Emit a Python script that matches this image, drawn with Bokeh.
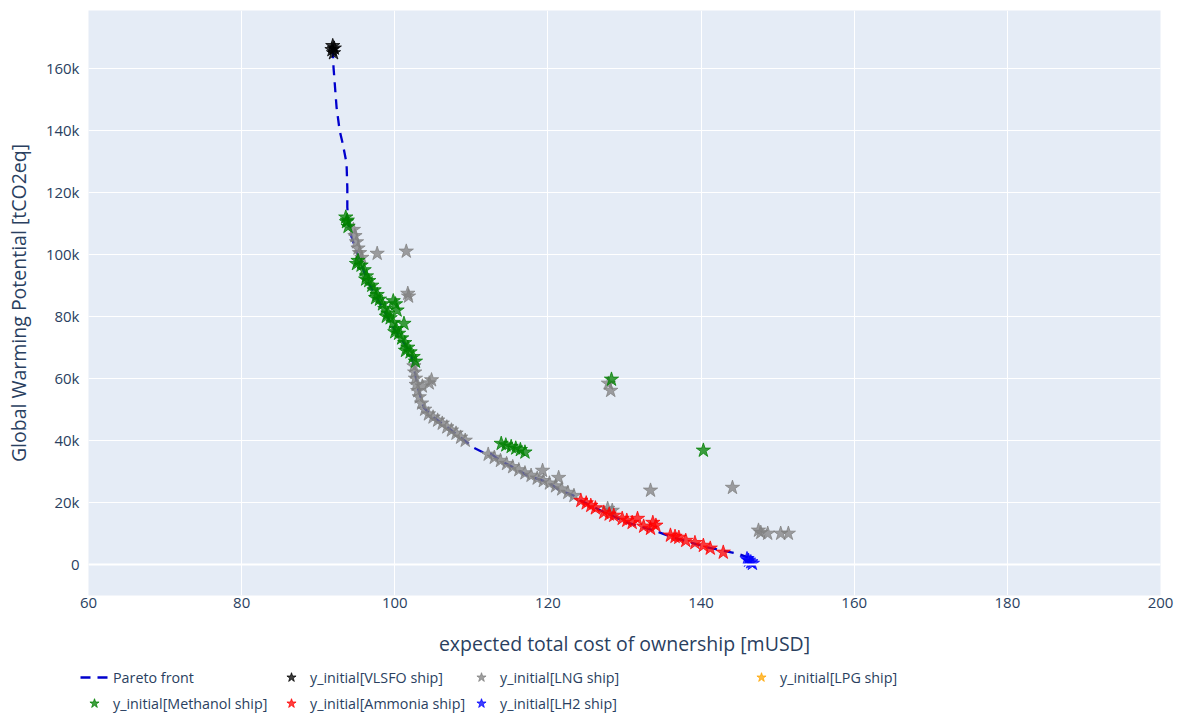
from bokeh.plotting import figure
from bokeh.layouts import column
from bokeh.models import (Range1d, FixedTicker, NumeralTickFormatter, Legend, LegendItem,
                          ColumnDataSource, Span)
from bokeh.embed import file_html
from bokeh.resources import INLINE

# ---------------- data ----------------
pareto_x = [91.9, 92.0, 92.4, 92.8, 93.2, 93.7, 93.8, 93.8, 94.0, 94.5, 95.1, 96.4, 98.1, 99.8,
            102.1, 102.4, 103.0, 103.8, 105.1, 106.9, 108.6, 110.3, 111.6, 112.5, 113.8, 115.5,
            117.3, 120.0, 121.6, 123.3, 124.3, 126.9, 130.4, 133.8, 136.4, 140.8, 144.8, 146.1]
pareto_y = [166500, 160300, 147400, 140000, 135800, 129400, 121600, 115200, 108700, 104500,
            100300, 91600, 84200, 76500, 68100, 64800, 57100, 50600, 47400, 44200, 41000, 37700,
            36100, 35800, 33500, 31300, 28700, 26500, 23900, 22300, 20600, 17400, 13500, 11000,
            8700, 5500, 3500, 2300]

vlsfo_x = [91.8, 91.9, 92.0, 92.1]
vlsfo_y = [166000, 167300, 165000, 166500]

lng_x = [94.6, 94.8, 95.0, 95.2, 95.4, 95.7, 97.7, 101.5, 101.8, 101.7,
         102.5, 102.6, 102.7, 102.8, 103.0, 103.2, 103.5, 103.9, 104.4, 105.0, 105.6, 106.2,
         106.8, 107.4, 108.0, 108.6, 109.2, 104.5, 104.8, 103.6,
         112.2, 113.0, 113.8, 114.6, 115.4, 116.2, 117.0, 117.8, 118.6, 119.4, 120.2, 121.0,
         121.8, 122.6, 123.4, 119.3, 121.4,
         127.8, 128.4, 127.9, 128.2, 133.4, 144.1, 147.5, 147.8, 148.7, 150.4, 151.4]
lng_y = [108000, 106000, 104000, 102000, 100500, 99000, 100300, 101000, 86500, 87400,
         64000, 62000, 60000, 58000, 56000, 54000, 52000, 50000, 48500, 47500, 46500, 45500,
         44300, 43300, 42300, 41000, 40000, 58500, 59500, 57500,
         35500, 34500, 33500, 32500, 31500, 30500, 29500, 28700, 27800, 27000, 26200, 25300,
         24300, 23200, 22200, 30300, 28000,
         18000, 17400, 58400, 56100, 23900, 24800, 11000, 10300, 10000, 10000, 10000]

# no LPG design is visible in the chart (legend entry only)
lpg_x = [float("nan")]
lpg_y = [float("nan")]

methanol_x = [93.6, 93.7, 93.9, 93.8, 95.2, 95.6, 96.0, 96.3, 96.6, 97.0, 97.3, 97.7, 98.0, 98.4,
              98.7, 99.1, 99.4, 99.8, 100.2, 100.5, 100.9, 101.3, 101.7, 102.0, 102.4, 102.7,
              95.0, 96.2, 97.5, 98.9, 100.0, 101.4, 99.8, 100.1, 100.3, 101.2,
              113.9, 114.5, 115.2, 115.8, 116.4, 117.0, 128.3, 140.3]
methanol_y = [112000, 110500, 109000, 111000, 98000, 96500, 95000, 93000, 91500, 90000, 88500,
              87000, 85500, 84000, 82500, 81000, 79500, 78000, 76000, 74500, 73000, 71500, 70000,
              68500, 67000, 65500, 97000, 92000, 86000, 80000, 75000, 69000, 85000, 84000, 82000,
              77700, 39000, 38500, 38000, 37500, 37000, 36200, 59700, 36800]

ammonia_x = [124.3, 125.0, 125.6, 126.2, 127.3, 128.0, 128.6, 129.7, 130.3, 131.0, 131.7, 133.7,
             134.1, 133.4, 132.5, 136.0, 137.1, 138.0, 140.3, 141.2, 142.9, 136.6, 139.2]
ammonia_y = [20600, 19800, 19000, 18200, 16800, 16200, 15800, 14800, 14200, 13500, 14800, 13500,
             12600, 11600, 12300, 9400, 8700, 7700, 6100, 5200, 3900, 9000, 7000]

lh2_x = [146.2, 146.7, 146.0, 146.5]
lh2_y = [1300, 300, 1800, 800]

x_ticks = [60, 80, 100, 120, 140, 160, 180, 200]
y_ticks = [0, 20000, 40000, 60000, 80000, 100000, 120000, 140000, 160000]

series_labels = ["Pareto front", "y_initial[VLSFO ship]", "y_initial[LNG ship]",
                 "y_initial[LPG ship]", "y_initial[Methanol ship]", "y_initial[Ammonia ship]",
                 "y_initial[LH2 ship]"]

# ---------------- styles ----------------
FONT = "Open Sans"
TXT = "#2a3f5f"
LINE_STYLE = dict(line_color="#0000CD", line_width=2.3, line_dash="10 7")
SERIES = {
    "vlsfo": (vlsfo_x, vlsfo_y, "black"),
    "lng": (lng_x, lng_y, "#808080"),
    "lpg": (lpg_x, lpg_y, "orange"),
    "meth": (methanol_x, methanol_y, "green"),
    "amm": (ammonia_x, ammonia_y, "red"),
    "lh2": (lh2_x, lh2_y, "blue"),
}

# ---------------- main figure ----------------
p = figure(frame_width=1072, frame_height=585, output_backend="svg", toolbar_location=None,
           x_range=Range1d(60, 200), y_range=Range1d(-10000, 178700),
           min_border_left=88, min_border_right=26, min_border_top=10, min_border_bottom=68,
           background_fill_color="#E5ECF6", border_fill_color="white")
p.outline_line_color = None

for ax in (p.xaxis[0], p.yaxis[0]):
    ax.axis_line_color = None
    ax.major_tick_line_color = None
    ax.minor_tick_line_color = None
    ax.major_tick_out = 0
    ax.major_tick_in = 0
    ax.major_label_text_font = FONT
    ax.major_label_text_font_size = "15px"
    ax.major_label_text_color = TXT
    ax.axis_label_text_font = FONT
    ax.axis_label_text_font_size = "19.5px"
    ax.axis_label_text_color = TXT
    ax.axis_label_text_font_style = "normal"

p.xaxis.ticker = FixedTicker(ticks=x_ticks)
p.yaxis.ticker = FixedTicker(ticks=y_ticks)
p.yaxis.formatter = NumeralTickFormatter(format="0a")
p.xaxis.axis_label = "expected total cost of ownership [mUSD]"
p.yaxis.axis_label = "Global Warming Potential [tCO2eq]"
p.xaxis.major_label_standoff = 2
p.xaxis.axis_label_standoff = 19
p.yaxis.major_label_standoff = 9
p.yaxis.axis_label_standoff = 11

p.grid.grid_line_color = "white"
p.grid.grid_line_width = 1
p.add_layout(Span(location=0, dimension="width", line_color="white", line_width=2))

def stars(fig, xs, ys, color):
    src = ColumnDataSource(dict(x=xs, y=ys))
    return fig.scatter("x", "y", source=src, marker="star", size=15,
                       fill_color=color, line_color=color, fill_alpha=0.75, line_alpha=0.75)

p.line(pareto_x, pareto_y, **LINE_STYLE)
for key, (xs, ys, c) in SERIES.items():
    stars(p, xs, ys, c)

# ---------------- legend strip (legend-only figure, data lies outside its view) ----------------
lf = figure(width=1186, height=52, output_backend="svg", toolbar_location=None,
            x_range=Range1d(0, 1), y_range=Range1d(0, 1),
            x_axis_type=None, y_axis_type=None,
            min_border_left=0, min_border_right=0, min_border_top=0, min_border_bottom=0,
            background_fill_color="white", border_fill_color="white")
lf.outline_line_color = None
if "frame_align" in lf.properties():
    lf.frame_align = False
    p.frame_align = False

proxy_line = lf.line(pareto_x, pareto_y, **LINE_STYLE)
proxy = {k: stars(lf, xs, ys, c) for k, (xs, ys, c) in SERIES.items()}

columns_spec = [
    ([(series_labels[0], proxy_line), (series_labels[4], proxy["meth"])], (80, 0)),
    ([(series_labels[1], proxy["vlsfo"]), (series_labels[5], proxy["amm"])], (277, 0)),
    ([(series_labels[2], proxy["lng"]), (series_labels[6], proxy["lh2"])], (467, 0)),
    ([(series_labels[3], proxy["lpg"])], (747, 26)),
]
for items, loc in columns_spec:
    lg = Legend(items=[LegendItem(label=t, renderers=[r]) for t, r in items],
                orientation="vertical", location=loc,
                label_text_font=FONT, label_text_font_size="14.3px", label_text_color=TXT,
                glyph_width=28, glyph_height=24, label_height=24, label_standoff=5, spacing=2,
                padding=0, margin=0, border_line_color=None, background_fill_alpha=0)
    lf.add_layout(lg, "center")

layout = column(p, lf, spacing=0)
open("out.html", "w").write(file_html(layout, INLINE))
